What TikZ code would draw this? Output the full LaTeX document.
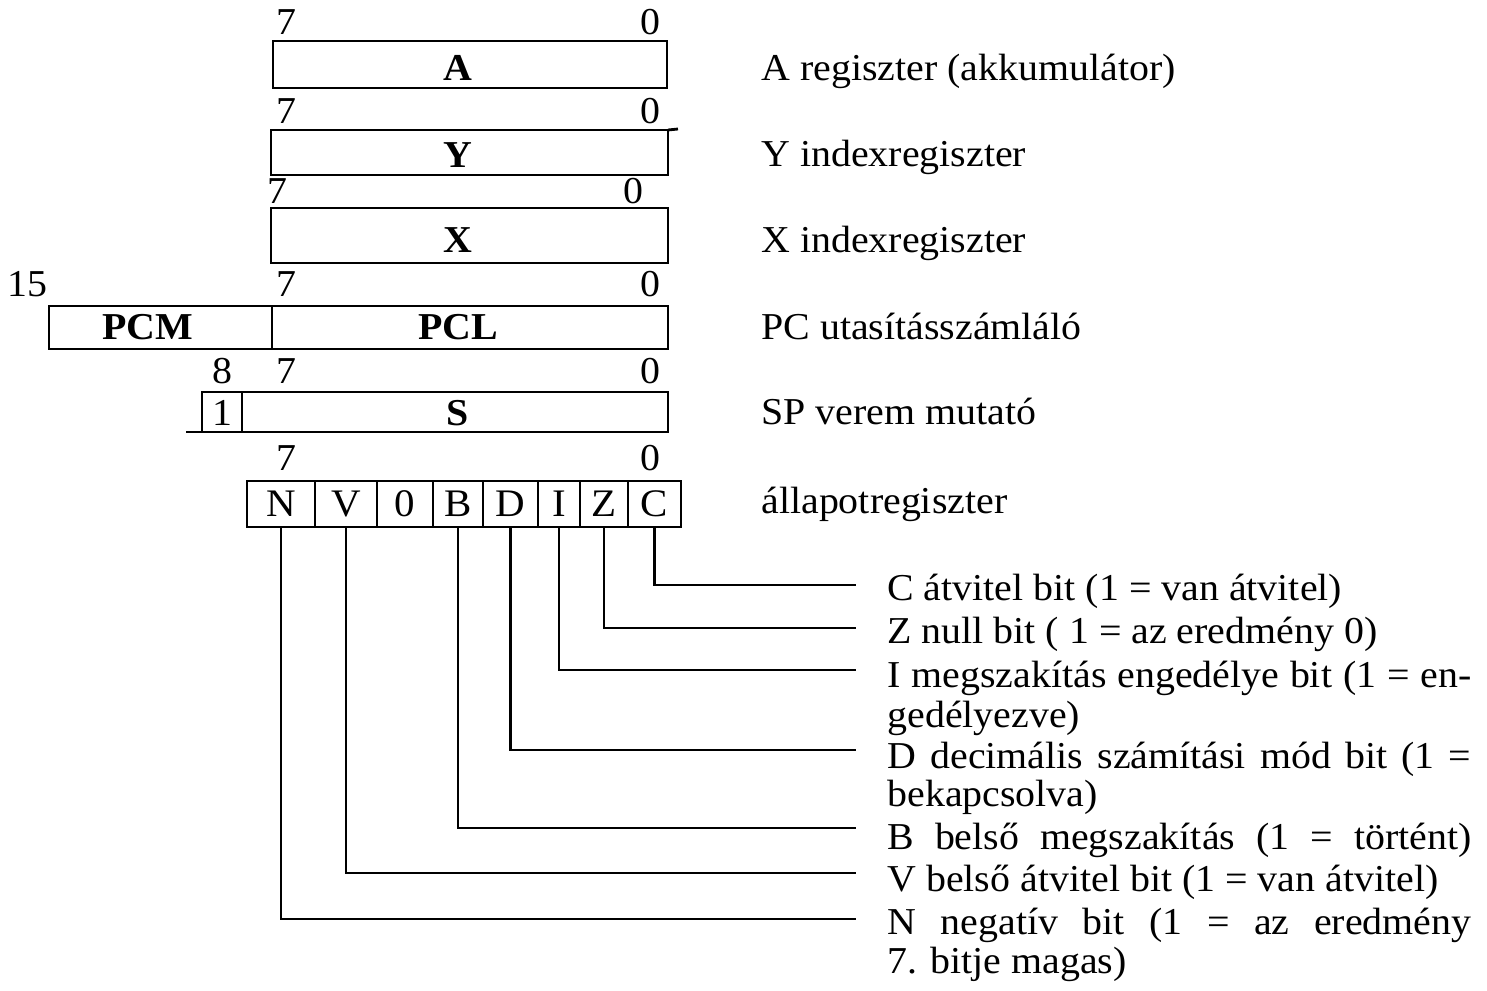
\documentclass[tikz,border=0pt]{standalone}
\usepackage{fontspec}
\setmainfont{Liberation Serif}[FakeStretch=1.05]
\begin{document}
\begin{tikzpicture}[x=1pt,y=-1pt,line width=2.8pt,
  box/.style={draw,line width=2.8pt},
  lbl/.style={inner sep=0pt,anchor=base,font=\fontsize{38}{44}\selectfont},
  blbl/.style={inner sep=0pt,anchor=base,font=\fontsize{38}{44}\selectfont\bfseries},
  desc/.style={inner sep=0pt,anchor=base west,font=\fontsize{38}{44}\selectfont},
  cell/.style={draw,line width=2.8pt,minimum height=46pt,inner sep=0pt,font=\fontsize{39}{44}\selectfont},
  conn/.style={line width=2.5pt}]
\useasboundingbox (0,0) rectangle (1487,990);
% register boxes
\draw[box] (273,41) rectangle (667,88);
\draw[box] (271,130) rectangle (668,175);
\draw[box] (668,130) -- (678,129);
\draw[box] (271,208) rectangle (668,263);
\draw[box] (49,306) rectangle (668,349);
\draw[box] (272,306) -- (272,349);
\draw[box] (202,392) rectangle (668,432);
\draw[box] (242,392) -- (242,432);
\draw[box] (186,432) -- (202,432);
% box labels
\node[blbl] (lA) at (458,80) {A};
\node[blbl] (lY) at (458,167) {Y};
\node[blbl] (lX) at (458,252) {X};
\node[blbl] (lPCM) at (148,339) {PCM};
\node[blbl] (lPCL) at (458,339) {PCL};
\node[blbl] (lS) at (458,425) {S};
\node[lbl] (l1) at (222,425) {1};
% bit numbers
\node[lbl] (a7) at (286,35) {7};
\node[lbl] (a0) at (650,35) {0};
\node[lbl] (y7) at (286,123) {7};
\node[lbl] (y0) at (650,123) {0};
\node[lbl] (x7) at (277,203) {7};
\node[lbl] (x0) at (633,203) {0};
\node[lbl] (p15) at (27,296) {15};
\node[lbl] (p7) at (286,296) {7};
\node[lbl] (p0) at (650,296) {0};
\node[lbl] (s8) at (222,383) {8};
\node[lbl] (s7) at (286,383) {7};
\node[lbl] (s0) at (650,383) {0};
\node[lbl] (f7) at (286,470) {7};
\node[lbl] (f0) at (650,470) {0};
% status cells
\node[cell,minimum width=68pt] (cN) at (281,504) {N};
\node[cell,minimum width=62pt] (cV) at (346,504) {V};
\node[cell,minimum width=56pt] (c0) at (405,504) {0};
\node[cell,minimum width=50pt] (cB) at (458,504) {B};
\node[cell,minimum width=55pt] (cD) at (510.5,504) {D};
\node[cell,minimum width=42pt] (cI) at (559,504) {I};
\node[cell,minimum width=48pt] (cZ) at (604,504) {Z};
\node[cell,minimum width=53pt] (cC) at (654.5,504) {C};
% right labels
\node[desc] (tA) at (760,80) {A regiszter (akkumulátor)};
\node[desc] (tY) at (760,166) {Y indexregiszter};
\node[desc] (tX) at (760,252) {X indexregiszter};
\node[desc] (tPC) at (760,339) {PC utasításszámláló};
\node[desc] (tSP) at (760,424) {SP verem mutató};
\node[desc] (tF) at (760,513) {állapotregiszter};
% bit descriptions
\node[desc] (dC) at (886,600) {C átvitel bit (1 = van átvitel)};
\node[desc] (dZ) at (886,643) {Z null bit ( 1 = az eredmény 0)};
\node[desc] (dI) at (886,687) {\makebox[584pt][s]{I megszakítás engedélye bit (1 = en-}};
\node[desc] (dI2) at (886,727) {gedélyezve)};
\node[desc] (dD) at (886,768) {\makebox[584pt][s]{D decimális számítási mód bit (1 =}};
\node[desc] (dD2) at (886,806) {bekapcsolva)};
\node[desc] (dB) at (886,849) {\makebox[584pt][s]{B belső megszakítás (1 = történt)}};
\node[desc] (dV) at (886,891) {V belső átvitel bit (1 = van átvitel)};
\node[desc] (dN) at (886,934) {\makebox[584pt][s]{N negatív bit (1 = az eredmény}};
\node[desc] (dN2) at (886,973) {7. bitje magas)};
% connector ends
\coordinate (eC) at (856,585);
\coordinate (eZ) at (856,628);
\coordinate (eI) at (856,670);
\coordinate (eD) at (856,750);
\coordinate (eB) at (856,828);
\coordinate (eV) at (856,873);
\coordinate (eN) at (856,919);
\draw[conn] (cC.south) |- (eC);
\draw[conn] (cZ.south) |- (eZ);
\draw[conn] (cI.south) |- (eI);
\draw[conn] (cD.south) |- (eD);
\draw[conn] (cB.south) |- (eB);
\draw[conn] (cV.south) |- (eV);
\draw[conn] (cN.south) |- (eN);
\end{tikzpicture}
\end{document}
